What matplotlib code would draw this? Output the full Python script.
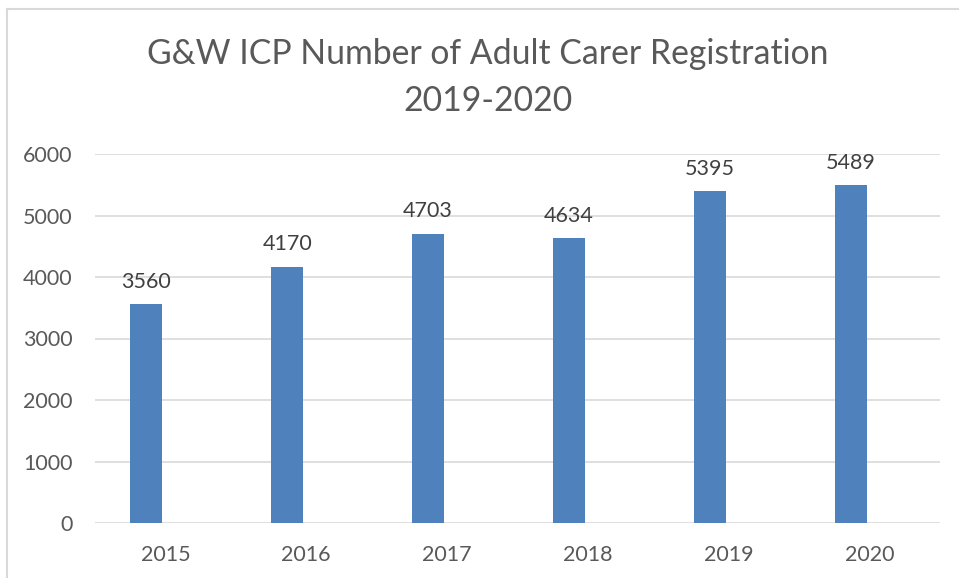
import matplotlib.pyplot as plt

years = ['2015', '2016', '2017', '2018', '2019', '2020']
carers = [3560, 4170, 4703, 4634, 5395, 5489]
y_ticks = [0, 1000, 2000, 3000, 4000, 5000, 6000]

plt.rcParams['font.family'] = ['Lato', 'DejaVu Sans']
text_col = '#595959'

fig = plt.figure(figsize=(9.59, 5.78), dpi=100)
# partial chart border (top and left visible in the screenshot)
fig.add_artist(plt.Line2D([7/959, 7/959], [0, 1 - 9/578], color='#D9D9D9', lw=1.5))
fig.add_artist(plt.Line2D([7/959, 1], [1 - 9/578, 1 - 9/578], color='#D9D9D9', lw=1.5))

ax = fig.add_axes([95/959, 1 - 523/578, 845/959, (523 - 154)/578])
x = list(range(len(years)))
# bars sit left of the category centre (clustered layout)
bx = [xi - 0.135 for xi in x]
ax.bar(bx, carers, width=0.228, color='#4F81BD', zorder=3)
for xi, v in zip(bx, carers):
    ax.annotate(str(v), (xi, v), xytext=(0, 9), textcoords='offset points',
                ha='center', va='bottom', fontsize=15.5, color='#404040')

ax.set_xlim(-0.5, len(years) - 0.5)
ax.set_ylim(0, 6000)
ax.set_yticks(y_ticks)
ax.set_xticks(x)
ax.set_xticklabels(years)
ax.grid(axis='y', color='#D9D9D9', lw=1.2, zorder=0)
for s in ax.spines.values():
    s.set_visible(False)
ax.tick_params(length=0, labelsize=15.5, colors=text_col)
ax.tick_params(axis='y', pad=16)
ax.tick_params(axis='x', pad=16)

fig.text(488/959, 1 - 54/578, 'G&W ICP Number of Adult Carer Registration', ha='center', va='center',
         fontsize=24.3, color=text_col)
fig.text(488/959, 1 - 101/578, '2019-2020', ha='center', va='center', fontsize=24.3, color=text_col)

fig.savefig('out.png', dpi=100)
